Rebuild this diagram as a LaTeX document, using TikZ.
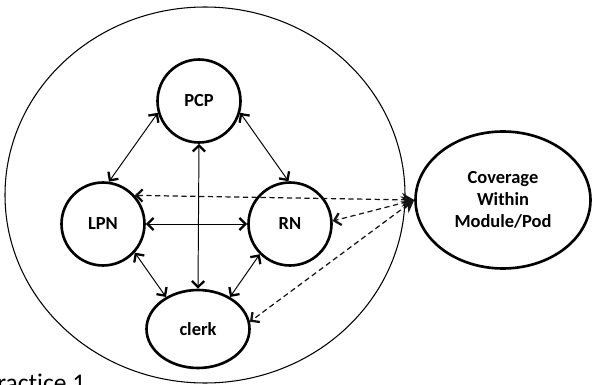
\documentclass[tikz,border=0pt]{standalone}
\usepackage{fontspec}
\setmainfont{Carlito}[Ligatures=NoCommon]
\usepackage{tikz}
\usetikzlibrary{
  arrows.meta,
  shapes.geometric
}
\usepackage{xcolor}
\definecolor{lineclr}{RGB}{0, 0, 0}
\definecolor{dashclr}{RGB}{20, 20, 20}
\tikzset{
  % roles inside the pod
  rolenode/.style  = {circle, draw=lineclr, line width=1.5pt, minimum size=1.66cm,
                      inner sep=0pt, font=\fontsize{10.5}{12}\selectfont\bfseries},
  clerknode/.style = {ellipse, draw=lineclr, line width=1.5pt, minimum width=2.06cm,
                      minimum height=1.56cm, inner sep=0pt, font=\fontsize{10.5}{12}\selectfont\bfseries},
  covnode/.style   = {ellipse, draw=lineclr, line width=1.5pt, minimum width=3.5cm,
                      minimum height=2.74cm, inner sep=0pt, align=center,
                      font=\fontsize{10.5}{12.5}\selectfont\bfseries},
  % connectors
  barb/.tip          = {Straight Barb[length=3.5pt, width=7pt, line width=1.3pt]},
  twoway/.style      = {barb-barb, line width=0.55pt, draw=lineclr},
  coverline/.style   = {{Stealth[length=7pt, width=8pt]}-barb, line width=0.7pt,
                        draw=dashclr, dash pattern=on 3pt off 2pt},
  podline/.style     = {line width=0.6pt, draw=lineclr},
}
\begin{document}
\begin{tikzpicture}[x=0.02cm, y=-0.02cm]
  \useasboundingbox (0,0) rectangle (592,385);
  \clip (0,0) rectangle (592,385);
  % module / pod boundary
  \draw[podline] (205,195) ellipse [x radius=200, y radius=188];
  % roles
  \node[rolenode] (pcp) at (199,101) {PCP};
  \node[rolenode] (lpn) at (103,224) {LPN};
  \node[rolenode] (rn) at (290,224) {RN};
  \node[clerknode] (clerk) at (198,329) {clerk};
  \node[covnode] (cov) at (503,200) {Coverage\\Within\\Module/Pod};
  % two-way links
  \draw[twoway] (pcp.196) -- (lpn.82);
  \draw[twoway] (pcp.344) -- (rn.92);
  \draw[twoway] (pcp.south) -- (clerk.north);
  \draw[twoway] (lpn.east) -- (rn.west);
  \draw[twoway] (lpn.318) -- (clerk.135);
  \draw[twoway] (rn.225) -- (clerk.45);
  % coverage links
  \draw[coverline] (cov.west) -- (lpn.42);
  \draw[coverline] (cov.west) -- (rn.4);
  \draw[coverline] (cov.west) -- (clerk.8);
  % caption, cut by the frame
  \node[anchor=base west, inner sep=0pt, font=\fontsize{14.5}{17}\selectfont] (cap) at (-3,391) {ractice 1};
\end{tikzpicture}
\end{document}
